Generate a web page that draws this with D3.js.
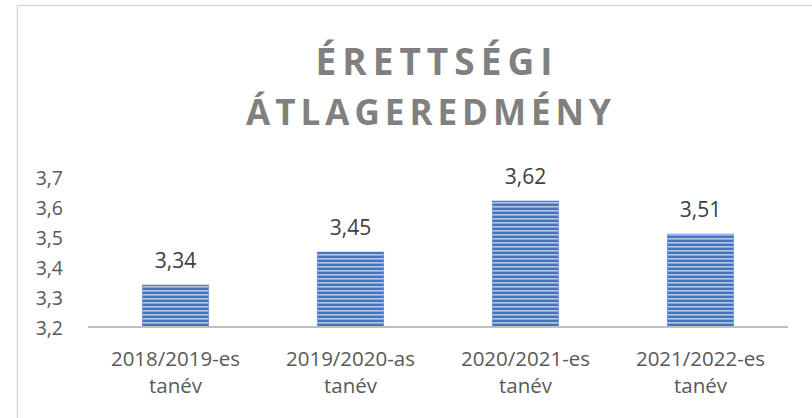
<!DOCTYPE html>
<html><head><meta charset="utf-8">
<script src="https://cdn.jsdelivr.net/npm/d3@7"></script>
<style>body{margin:0;background:#fff}svg{display:block}</style>
</head><body>
<svg id="c" width="812" height="418"></svg>
<script>
const categories = [["2018/2019-es","tanév"],["2019/2020-as","tanév"],["2020/2021-es","tanév"],["2021/2022-es","tanév"]];
const values = [3.34, 3.45, 3.62, 3.51];
const yTicks = [3.2, 3.3, 3.4, 3.5, 3.6, 3.7];
const titleLines = ["ÉRETTSÉGI", "ÁTLAGEREDMÉNY"];

const svg = d3.select("#c");
const fmt = v => String(v).replace(".", ",");
const font = "'Open Sans', sans-serif";

svg.append("rect").attr("x",17.5).attr("y",5.5).attr("width",820).attr("height",430)
  .attr("fill","#fff").attr("stroke","#d9d9d9").attr("stroke-width",1.5);

const defs = svg.append("defs");
const pat = defs.append("pattern").attr("id","stripes").attr("patternUnits","userSpaceOnUse")
  .attr("width",8).attr("height",4);
pat.append("rect").attr("width",8).attr("height",4).attr("fill","#4472c4");
pat.append("rect").attr("y",2).attr("width",8).attr("height",1.6).attr("fill","#b4c6e7");

const x = d3.scaleBand().domain(d3.range(categories.length)).range([88,788]).paddingInner(0.62).paddingOuter(0.31);
const y = d3.scaleLinear().domain([3.2,3.7]).range([327,177]);

svg.append("g").selectAll("text").data(titleLines).join("text")
  .attr("x",(d,i)=>i===0?437:431).attr("y",(d,i)=>75+i*50).attr("text-anchor","middle")
  .attr("font-family",font).attr("font-weight","bold").attr("font-size",(d,i)=>i===0?37:35)
  .attr("letter-spacing",(d,i)=>i===0?6:5).attr("fill","#808080").text(d=>d);

svg.append("g").selectAll("text").data(yTicks).join("text")
  .attr("x",63).attr("y",d=>y(d)+8).attr("text-anchor","end")
  .attr("font-family",font).attr("font-size",19.5).attr("fill","#595959").text(fmt);

svg.append("g").selectAll("rect").data(values).join("rect")
  .attr("x",(d,i)=>x(i)).attr("width",x.bandwidth())
  .attr("y",d=>y(d)).attr("height",d=>y(3.2)-y(d))
  .attr("fill","url(#stripes)").attr("stroke","#6f8fd0").attr("stroke-width",0.6);

svg.append("line").attr("x1",88).attr("x2",788).attr("y1",y(3.2)).attr("y2",y(3.2))
  .attr("stroke","#bfbfbf").attr("stroke-width",2);

svg.append("g").selectAll("text").data(values).join("text")
  .attr("x",(d,i)=>x(i)+x.bandwidth()/2).attr("y",d=>y(d)-17).attr("text-anchor","middle")
  .attr("font-family",font).attr("font-size",21).attr("fill","#404040").text(fmt);

const xl = svg.append("g").selectAll("text").data(categories).join("text")
  .attr("text-anchor","middle").attr("font-family",font).attr("font-size",20.5).attr("fill","#595959");
xl.selectAll("tspan").data((d,i)=>d.map(t=>({t,i}))).join("tspan")
  .attr("x",d=>x(d.i)+x.bandwidth()/2).attr("y",(d,j)=>366+j*27).text(d=>d.t);
</script>
</body></html>
